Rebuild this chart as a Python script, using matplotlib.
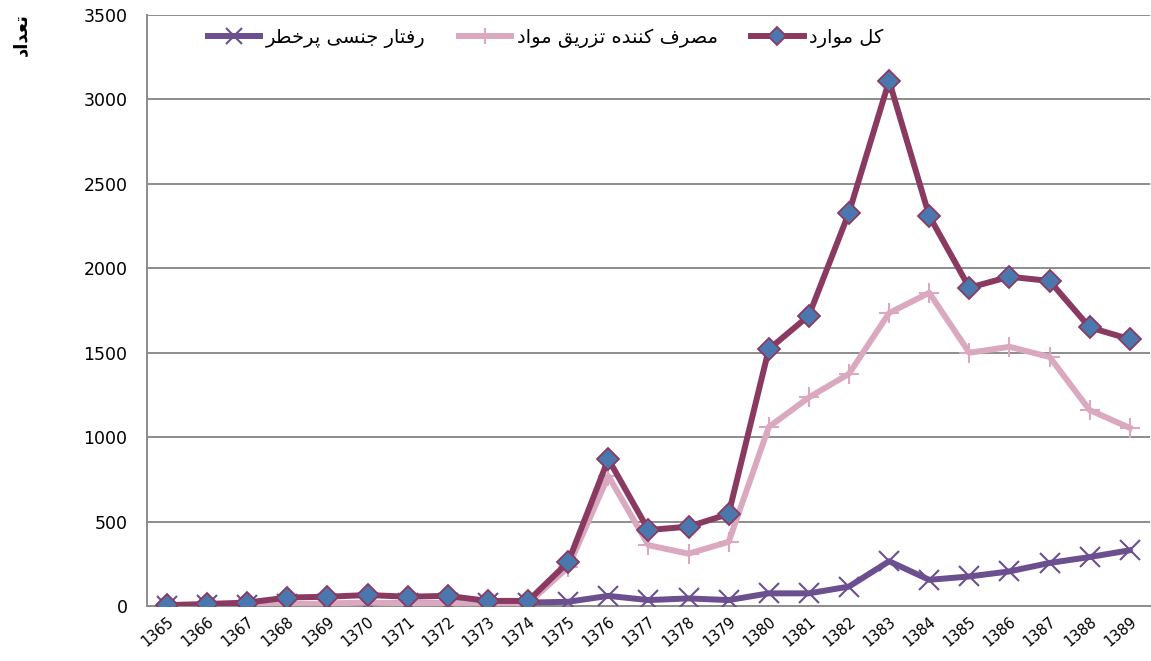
import numpy as np
import matplotlib
matplotlib.use('Agg')
import matplotlib.pyplot as plt

years = [str(y) for y in range(1365, 1390)]

# کل موارد
total = [5, 12, 20, 50, 55, 65, 55, 60, 30, 30, 260, 870, 450, 470, 545,
         1520, 1720, 2330, 3110, 2310, 1885, 1950, 1925, 1650, 1580]
# مصرف کننده تزریق مواد
injecting = [0, 2, 5, 10, 15, 20, 15, 15, 10, 15, 230, 770, 360, 310, 380,
             1060, 1235, 1375, 1735, 1855, 1500, 1535, 1475, 1160, 1055]
# رفتار جنسی پرخطر
sexual = [2, 5, 8, 10, 12, 15, 15, 15, 15, 20, 25, 60, 35, 45, 35,
          75, 75, 115, 265, 155, 175, 205, 255, 290, 330]

labels = ['رفتار جنسی پرخطر', 'مصرف کننده تزریق مواد', 'کل موارد']
ylabel = 'تعداد'

# simple Persian shaping: matplotlib has no complex text layout
FORMS = {
    'ا': (0xFE8D, 0xFE8E), 'د': (0xFEA9, 0xFEAA), 'ر': (0xFEAD, 0xFEAE),
    'ز': (0xFEAF, 0xFEB0), 'و': (0xFEED, 0xFEEE),
    'ت': (0xFE95, 0xFE96, 0xFE97, 0xFE98), 'ج': (0xFE9D, 0xFE9E, 0xFE9F, 0xFEA0),
    'خ': (0xFEA5, 0xFEA6, 0xFEA7, 0xFEA8), 'س': (0xFEB1, 0xFEB2, 0xFEB3, 0xFEB4),
    'ص': (0xFEB9, 0xFEBA, 0xFEBB, 0xFEBC), 'ط': (0xFEC1, 0xFEC2, 0xFEC3, 0xFEC4),
    'ع': (0xFEC9, 0xFECA, 0xFECB, 0xFECC), 'ف': (0xFED1, 0xFED2, 0xFED3, 0xFED4),
    'ق': (0xFED5, 0xFED6, 0xFED7, 0xFED8), 'ل': (0xFEDD, 0xFEDE, 0xFEDF, 0xFEE0),
    'م': (0xFEE1, 0xFEE2, 0xFEE3, 0xFEE4), 'ن': (0xFEE5, 0xFEE6, 0xFEE7, 0xFEE8),
    'ه': (0xFEE9, 0xFEEA, 0xFEEB, 0xFEEC), 'پ': (0xFB56, 0xFB57, 0xFB58, 0xFB59),
    'ک': (0xFB8E, 0xFB8F, 0xFB90, 0xFB91), 'ی': (0xFBFC, 0xFBFD, 0xFBFE, 0xFBFF),
}


def shape(text):
    out = []
    for i, c in enumerate(text):
        if c not in FORMS:
            out.append(c)
            continue
        prev = text[i - 1] if i > 0 else ''
        nxt = text[i + 1] if i + 1 < len(text) else ''
        f = FORMS[c]
        join_prev = prev in FORMS and len(FORMS[prev]) == 4
        join_next = len(f) == 4 and nxt in FORMS
        if len(f) == 2:
            out.append(chr(f[1] if join_prev else f[0]))
        elif join_prev and join_next:
            out.append(chr(f[3]))
        elif join_prev:
            out.append(chr(f[1]))
        elif join_next:
            out.append(chr(f[2]))
        else:
            out.append(chr(f[0]))
    return ''.join(out)[::-1]


plt.rcParams['font.family'] = ['DejaVu Sans']

fig = plt.figure(figsize=(11.51, 6.61), dpi=100)
ax = fig.add_axes([0.1277, 0.0832, 0.8713, 0.8941])

x = np.arange(len(years))
ax.plot(x, sexual, color='#6B4F8F', lw=4.3, marker='x', ms=14, mew=1.5,
        label=shape(labels[0]), zorder=3)
ax.plot(x, injecting, color='#DAA9C0', lw=4.3, marker='+', ms=15, mew=1.5,
        label=shape(labels[1]), zorder=4)
ax.plot(x, total, color='#8A3A60', lw=4.3, marker='D', ms=11, mfc='#4A78AE',
        mec='#8A3A60', mew=1.3, label=shape(labels[2]), zorder=5)

ax.set_xlim(-0.5, len(years) - 0.5)
ax.set_ylim(0, 3500)
ax.set_yticks(np.arange(0, 3501, 500))
ax.set_xticks(x)
ax.set_xticklabels(years, rotation=40, ha='right', rotation_mode='anchor', fontsize=10.5)
ax.tick_params(axis='y', labelsize=12.5, length=0, pad=14)
ax.tick_params(axis='x', length=0, pad=6)
ax.grid(axis='y', color='#8C8C8C', lw=1.4)
ax.set_axisbelow(True)
for s in ['top', 'right']:
    ax.spines[s].set_visible(False)
for s in ['left', 'bottom']:
    ax.spines[s].set_color('#8C8C8C')
    ax.spines[s].set_linewidth(1.4)

ax.legend(loc='upper left', bbox_to_anchor=(0.043, 1.008), ncol=3, frameon=False,
          fontsize=14, handlelength=2.7, columnspacing=1.7, handletextpad=0.3,
          markerscale=0.8)

fig.text(0.018, 0.948, shape(ylabel), rotation=90, fontsize=13, fontweight='bold',
         ha='center', va='center')

fig.savefig('out.png', dpi=100)
